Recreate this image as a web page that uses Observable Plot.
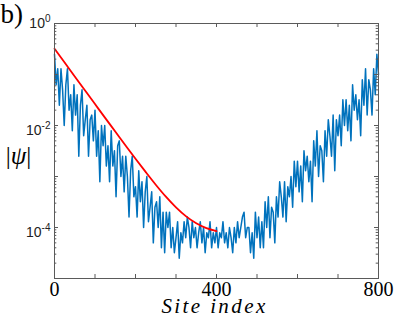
<!DOCTYPE html>
<html>
<head>
<meta charset="utf-8">
<script src="https://cdn.jsdelivr.net/npm/d3@7"></script>
<script src="https://cdn.jsdelivr.net/npm/@observablehq/plot@0.6"></script>
<style>
  html, body { margin: 0; padding: 0; background: #fff; }
</style>
</head>
<body>
<div id="chart"></div>
<script>
// |psi| sampled every siteStep sites, from site 0 to site 800
const siteStep = 4;
const psi = [
  2.5e-1, 6.3e-2, 1.3e-1, 2.5e-2, 1.3e-1, 5e-2, 1e-2, 6.3e-2, 1.3e-1, 2e-2,
  4e-2, 7.9e-3, 6.3e-2, 1.6e-2, 4e-2, 2.5e-3, 2.5e-2, 5e-2, 6.3e-3, 1.3e-2,
  2.5e-2, 2.5e-3, 1.3e-2, 1.6e-2, 5e-3, 2e-2, 2.5e-3, 7.9e-3, 7.9e-4, 1e-2,
  4e-3, 1e-2, 1.6e-3, 4e-3, 7.9e-4, 7.9e-3, 1.6e-3, 3.2e-3, 4e-4, 4e-3,
  5e-3, 1e-3, 2.5e-3, 5e-4, 2.5e-3, 1e-3, 1.6e-4, 1.3e-3, 2.5e-3, 4e-4,
  6.3e-4, 1.6e-4, 1.3e-3, 3.2e-4, 7.9e-4, 1e-4, 5e-4, 1e-3, 1.3e-4, 2.5e-4,
  5e-4, 5e-5, 2.5e-4, 3.2e-4, 1e-4, 4e-4, 4e-5, 2e-4, 3.2e-5, 2e-4,
  1e-4, 2e-4, 4e-5, 1e-4, 3.2e-5,
  6.3e-5, 1.3e-4, 2.5e-5, 7.9e-5, 5e-5, 1.3e-4, 6.3e-5, 1.6e-4, 1e-4, 4e-5,
  1.3e-4, 6.3e-5, 1e-4, 4e-5, 7.9e-5, 1.3e-4, 5e-5, 1e-4, 3.2e-5, 7.9e-5,
  6.3e-5, 1.3e-4, 4e-5, 7.9e-5, 5e-5, 1e-4, 4e-5, 7.9e-5, 6.3e-5, 1.3e-4,
  5e-5, 7.9e-5, 4e-5, 1e-4, 6.3e-5, 3.2e-5, 1e-4, 5e-5, 1.3e-4, 6.3e-5,
  1e-4, 1.6e-4, 2e-4, 6.3e-5, 1e-4,
  1e-4, 3.2e-5, 7.9e-5, 2.5e-5, 2e-4, 6.3e-5, 1.6e-4, 4e-5, 1.3e-4, 4e-5,
  3.2e-4, 1e-4, 4e-4, 6.3e-5, 2.5e-4, 2e-4, 5e-5, 4e-4, 1.6e-4, 7.9e-4,
  4e-4, 1.6e-4, 7.9e-4, 1.3e-4, 6.3e-4, 4e-4, 1e-3, 2.5e-4, 2e-3, 6.3e-4,
  2e-3, 5e-4, 1.6e-3, 3.2e-4, 3.2e-3, 1.3e-3, 2.5e-3, 7.9e-4, 2e-3, 3.2e-4,
  5e-3, 1.6e-3, 7.9e-3, 1e-3, 4e-3, 3.2e-3, 7.9e-4, 7.9e-3, 2.5e-3, 1.3e-2,
  6.3e-3, 2.5e-3, 1.6e-2, 1.3e-3, 1.3e-2, 6.3e-3, 1.6e-2, 4e-3, 3.2e-2, 1e-2,
  3.2e-2, 7.9e-3, 2.5e-2, 5e-3, 6.3e-2, 2e-2, 4e-2, 1.3e-2, 3.2e-2, 6.3e-3,
  7.9e-2, 2.5e-2, 1.3e-1, 1.6e-2, 7.9e-2, 5e-2, 1.6e-2, 1.3e-1, 4e-2, 2.5e-1,
  1e-1
];

// red fitted envelope
const fitSites = [0, 25, 50, 75, 100, 125, 150, 175, 200, 225, 250, 275, 300, 325, 350, 375, 400];
const fitValues = [0.32, 0.172, 0.0917, 0.0491, 0.0263, 0.0141, 0.00762, 0.00411, 0.00223,
  0.00123, 0.00069, 0.000402, 0.000248, 0.000165, 0.000121, 0.000097, 0.000085];

const xTicks = [0, 100, 200, 300, 400, 500, 600, 700, 800];
const xTickLabels = [0, 400, 800];
const yDecades = [1e-5, 1e-4, 1e-3, 1e-2, 1e-1, 1];
const yLabelValues = [1, 1e-2, 1e-4];
const yLabelExps = ["0", "-2", "-4"];

const W = 399, H = 316;
const mL = 54, mR = 21, mT = 23, mB = 38;
const fw = W - mL - mR, fh = H - mT - mB;
const axisColor = "#5a5a5a";
const majorLen = 4, minorLen = 2.3;

const psiData = psi.map((v, i) => ({site: i * siteStep, v}));
const fitData = fitSites.map((s, i) => ({site: s, v: fitValues[i]}));
const yMinor = yDecades.slice(0, -1).flatMap(d => d3.range(2, 10).map(k => k * d));

const chart = Plot.plot({
  width: W, height: H,
  marginLeft: mL, marginRight: mR, marginTop: mT, marginBottom: mB,
  x: {domain: [0, 800], axis: null},
  y: {type: "log", domain: [1e-5, 1], axis: null},
  marks: [
    Plot.line(psiData, {x: "site", y: "v", stroke: "#0072BD", strokeWidth: 1.5}),
    Plot.line(fitData, {x: "site", y: "v", stroke: "#FF0000", strokeWidth: 1.8, curve: "monotone-x"}),
    Plot.frame({stroke: axisColor, strokeWidth: 1}),
    // x ticks (inward), bottom and top
    Plot.ruleX(xTicks, {x: d => d, stroke: axisColor, insetTop: fh - majorLen}),
    Plot.ruleX(xTicks, {x: d => d, stroke: axisColor, insetBottom: fh - majorLen}),
    // y ticks (inward), left and right
    Plot.ruleY(yDecades, {y: d => d, stroke: axisColor, insetRight: fw - majorLen}),
    Plot.ruleY(yDecades, {y: d => d, stroke: axisColor, insetLeft: fw - majorLen}),
    Plot.ruleY(yMinor, {y: d => d, stroke: axisColor, insetRight: fw - minorLen}),
    Plot.ruleY(yMinor, {y: d => d, stroke: axisColor, insetLeft: fw - minorLen}),
    // x tick labels
    Plot.text(xTickLabels, {x: d => d, text: d => String(d), frameAnchor: "bottom", lineAnchor: "top",
      dy: 3, fontFamily: "Liberation Serif", fontSize: 20, fill: "#000"}),
    // y tick labels
    Plot.text(yLabelValues, {y: d => d, text: (d, i) => yLabelExps[i], frameAnchor: "left", textAnchor: "end",
      dx: -4, lineAnchor: "middle", fontFamily: "Liberation Sans", fontSize: 14, fill: "#222",
      className: "ylab"}),
    // axis labels
    Plot.text(["Site index"], {text: d => d, frameAnchor: "bottom", lineAnchor: "bottom", dx: -2, dy: 34,
      fontFamily: "Liberation Serif", fontStyle: "italic", fontSize: 21, fill: "#000", className: "xlab"}),
    Plot.text(["|ψ|"], {text: d => d, frameAnchor: "left", lineAnchor: "middle", textAnchor: "middle", dx: -36, dy: 5,
      fontFamily: "Liberation Serif", fontSize: 25, fill: "#000", className: "ylabel"}),
    Plot.text(["b)"], {text: d => d, frameAnchor: "top-left", lineAnchor: "bottom", textAnchor: "start",
      dx: -mL, dy: -1, fontFamily: "Liberation Serif", fontSize: 27, fill: "#000"})
  ]
});

// superscript exponents on y tick labels
d3.select(chart).selectAll(".ylab text").each(function() {
  const e = this.textContent;
  const t = d3.select(this);
  const isTop = e === "0";
  t.text(null);
  t.attr("transform", (t.attr("transform") || "") + (isTop ? "" : " translate(0,5)"));
  t.append("tspan").text("10");
  t.append("tspan").attr("dy", "-0.55em").attr("font-size", 10).text(e);
});
// |ψ| with italic psi
d3.select(chart).selectAll(".ylabel text").each(function() {
  const t = d3.select(this);
  t.text(null);
  t.append("tspan").text("|");
  t.append("tspan").attr("font-style", "italic").text("ψ");
  t.append("tspan").text("|");
});
d3.select(chart).selectAll(".xlab text").attr("letter-spacing", 2.4);

document.getElementById("chart").appendChild(chart);
</script>
</body>
</html>
